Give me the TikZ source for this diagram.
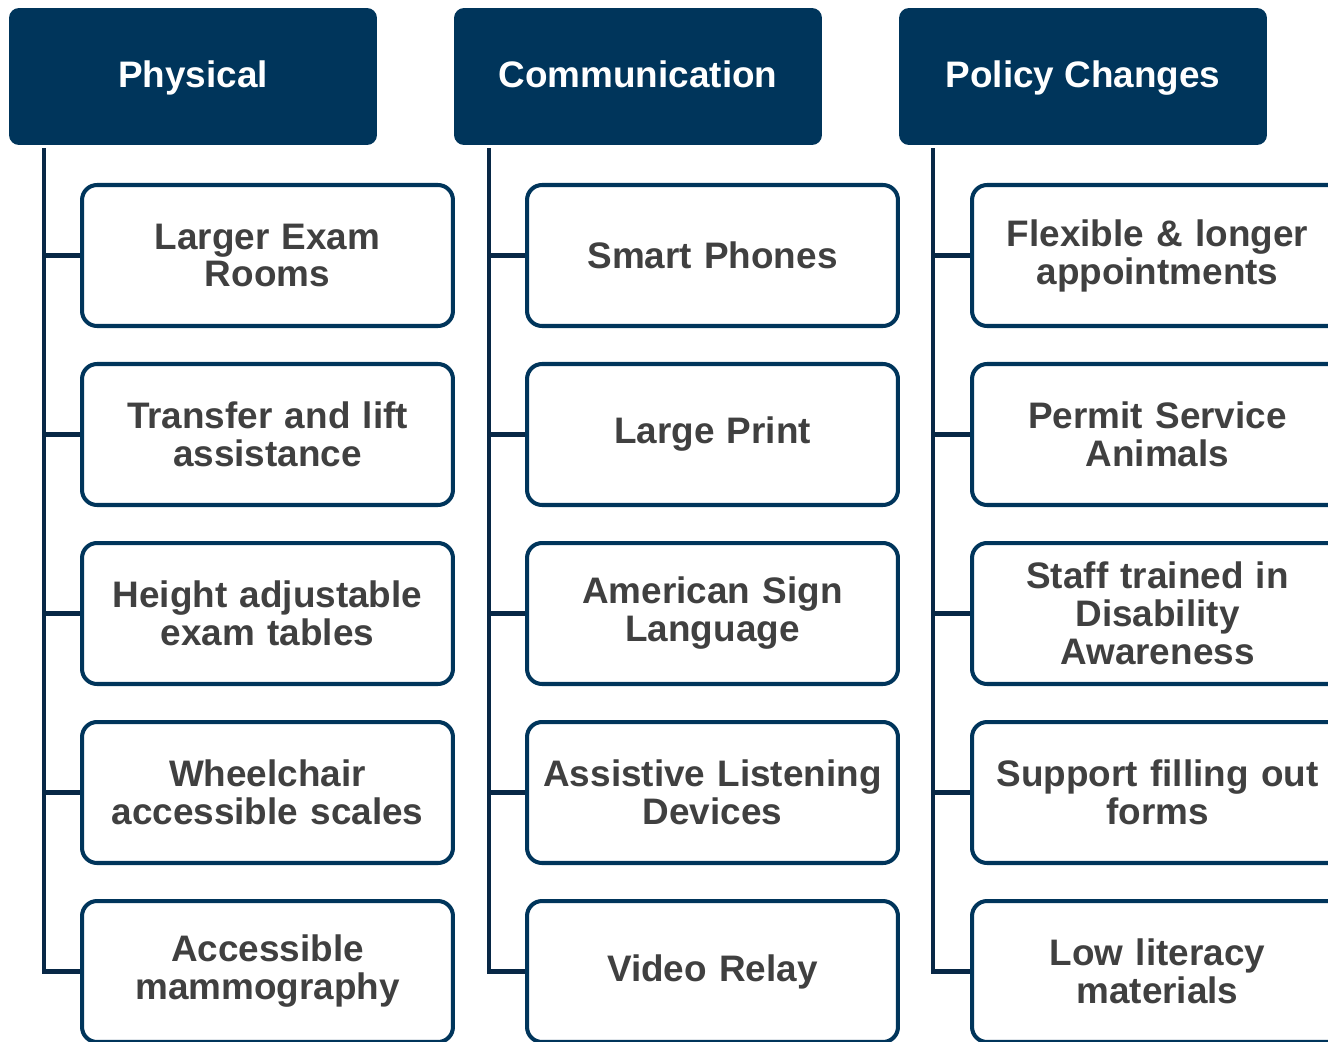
\documentclass[tikz,border=0pt]{standalone}
\usepackage{fontspec}
\setmainfont{Liberation Sans}
\usetikzlibrary{positioning}

\definecolor{navy}{RGB}{0,53,91}
\definecolor{trunk}{RGB}{8,40,70}
\definecolor{txt}{RGB}{64,64,64}

\begin{document}
\begin{tikzpicture}[x=0.02cm,y=-0.02cm,
  header/.style={fill=navy, rounded corners=0.2cm, minimum width=7.36cm, minimum height=2.74cm,
    text=white, font=\fontsize{21}{23}\selectfont\bfseries, inner sep=0pt,
    text height=0.61cm, text depth=0.15cm},
  item/.style={draw=navy, line width=2.3pt, fill=white, rounded corners=0.3cm,
    minimum width=7.42cm, minimum height=2.82cm, text width=7.3cm, align=center,
    text=txt, font=\fontsize{21}{21.6}\selectfont\bfseries, inner sep=0pt},
  branch/.style={draw=trunk, line width=2.3pt}]

\useasboundingbox (0,0) rectangle (1328,1041);
\clip (0,0) rectangle (1328,1041);

% headers
\node[header] (phys) at (193,76.5) {Physical};
\node[header] (comm) at (638,76.5) {Communication};
\node[header] (pol) at (1083,76.5) {Policy Changes};

% trunk starts
\coordinate (t1) at (44,148);
\coordinate (t2) at (489,148);
\coordinate (t3) at (933,148);

% physical
\node[item] (p1) at (267.5,255.5) {Larger Exam\\Rooms};
\node[item] (p2) at (267.5,434.5) {Transfer and lift\\assistance};
\node[item] (p3) at (267.5,613.5) {Height adjustable\\exam tables};
\node[item] (p4) at (267.5,792.5) {Wheelchair\\accessible scales};
\node[item] (p5) at (267.5,971.5) {Accessible\\mammography};

% communication
\node[item] (c1) at (712.5,255.5) {Smart Phones};
\node[item] (c2) at (712.5,434.5) {Large Print};
\node[item] (c3) at (712.5,613.5) {American Sign\\Language};
\node[item] (c4) at (712.5,792.5) {Assistive Listening\\Devices};
\node[item] (c5) at (712.5,971.5) {Video Relay};

% policy changes
\node[item] (q1) at (1157.5,255.5) {Flexible \& longer\\appointments};
\node[item] (q2) at (1157.5,434.5) {Permit Service\\Animals};
\node[item] (q3) at (1157.5,613.5) {Staff trained in\\Disability\\Awareness};
\node[item] (q4) at (1157.5,792.5) {Support filling out\\forms};
\node[item] (q5) at (1157.5,971.5) {Low literacy\\materials};

% branches
\begin{scope}[branch]
\draw (t1) |- (p1.west);
\draw (t1) |- (p2.west);
\draw (t1) |- (p3.west);
\draw (t1) |- (p4.west);
\draw (t1) |- (p5.west);

\draw (t2) |- (c1.west);
\draw (t2) |- (c2.west);
\draw (t2) |- (c3.west);
\draw (t2) |- (c4.west);
\draw (t2) |- (c5.west);

\draw (t3) |- (q1.west);
\draw (t3) |- (q2.west);
\draw (t3) |- (q3.west);
\draw (t3) |- (q4.west);
\draw (t3) |- (q5.west);
\end{scope}

\end{tikzpicture}
\end{document}
